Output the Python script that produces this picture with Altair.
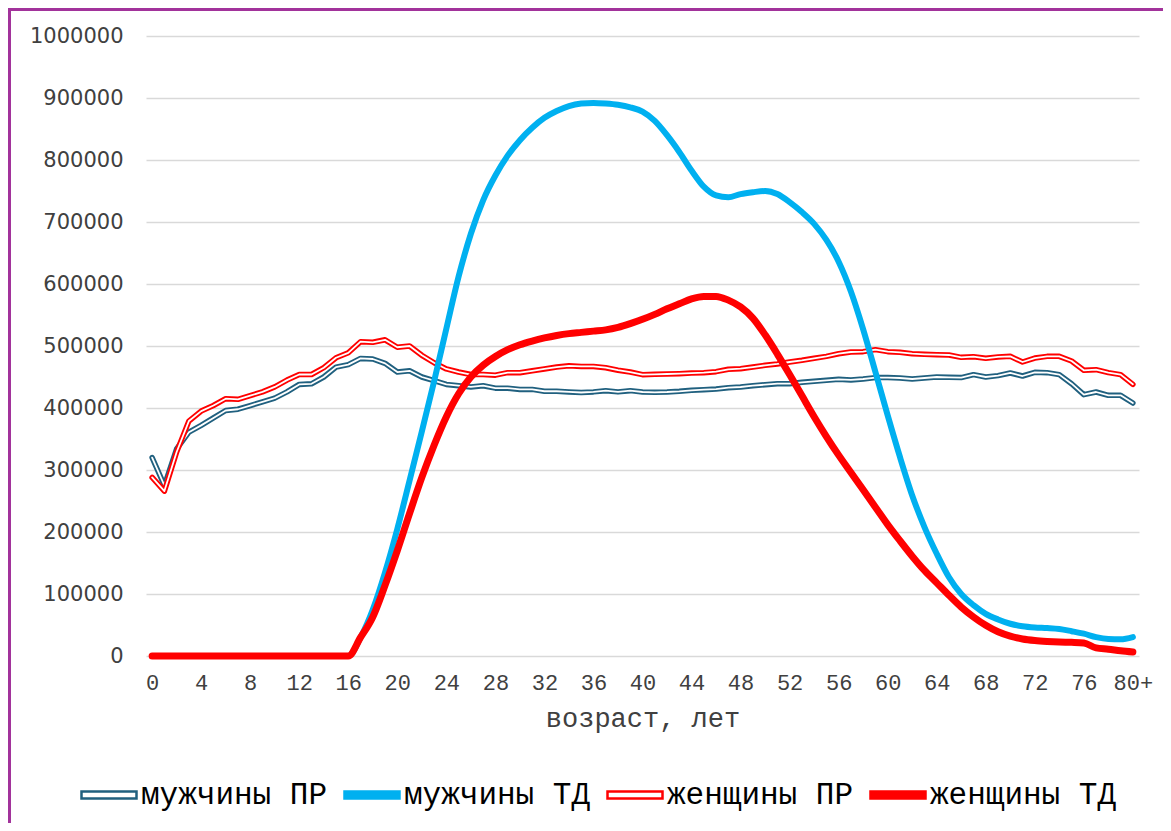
import altair as alt
import pandas as pd

ages = list(range(0, 81))

m_pr = [320000, 275000, 334000, 361000, 372000, 384000, 396000, 398000, 404000, 410000,
        416000, 426000, 438000, 439000, 450000, 466000, 470000, 480000, 479000, 472000,
        458000, 460000, 450000, 444000, 438000, 436000, 434000, 436000, 432000, 432000,
        430000, 430000, 427000, 427000, 426000, 425000, 426000, 428000, 426000, 428000,
        425800, 425300, 425800, 426900, 428500, 429600, 430600, 432800, 433900, 436000,
        437600, 439200, 439200, 441400, 443000, 444600, 446200, 445200, 446800, 449000,
        449000, 448400, 446800, 448400, 450000, 449500, 449000, 453800, 450000, 452200,
        456500, 451600, 457500, 457000, 453800, 439200, 421500, 425800, 420400, 420400,
        408000]

w_pr = [288000, 266000, 329000, 379000, 395000, 404000, 415000, 414000, 420000, 426000,
        434000, 445000, 454000, 454000, 465000, 481000, 489000, 507000, 506000, 510000,
        498000, 500000, 485000, 473000, 463000, 458000, 454000, 454000, 453000, 457000,
        457000, 460000, 463000, 466000, 468000, 467000, 467000, 465000, 461000, 458000,
        453800, 454300, 454800, 455400, 456400, 457000, 458600, 462400, 463400, 466100,
        468800, 471000, 474200, 476900, 480100, 483300, 487600, 490300, 490900, 494100,
        490900, 489800, 487600, 486600, 486000, 485500, 481700, 482800, 480100, 482300,
        483300, 474200, 480600, 483300, 483300, 475800, 460800, 461800, 457000, 453800,
        438200]

m_td = [0, 0, 0, 0, 0, 0, 0, 0, 0, 0,
        0, 0, 0, 0, 0, 0, 0, 30000, 75000, 135000,
        205000, 283000, 362000, 443000, 528000, 612000, 681000, 735000, 775000, 807000,
        832000, 852000, 868000, 879000, 887000, 891000, 892000, 891000, 889000, 885000,
        878000, 863000, 840000, 813000, 783000, 757000, 743000, 740000, 745000, 748000,
        750000, 745000, 732000, 716000, 697000, 671000, 636000, 588000, 527000, 458000,
        388000, 321000, 259000, 208000, 165000, 127000, 100000, 82000, 68000, 59000,
        52000, 48000, 46000, 45000, 43500, 40000, 36000, 30500, 27500, 27000,
        30500]

w_td = [0, 0, 0, 0, 0, 0, 0, 0, 0, 0,
        0, 0, 0, 0, 0, 0, 0, 30000, 63000, 114000,
        170000, 230000, 288000, 340000, 386000, 423000, 450000, 469000, 483000, 494000,
        502000, 508000, 513000, 517000, 520000, 522000, 524000, 526000, 530000, 536000,
        543000, 551000, 560000, 568000, 576000, 580000, 580000, 574000, 563000, 545000,
        518000, 487000, 454000, 420000, 386000, 354000, 324000, 296000, 268000, 240000,
        212000, 186000, 161000, 138000, 118000, 98000, 79000, 63000, 49500, 39000,
        32000, 27500, 25000, 23500, 22500, 22000, 21000, 13000, 11000, 8500,
        6500]

series_names = ["мужчины ПР", "мужчины ТД", "женщины ПР", "женщины ТД"]
stroke_colors = ["#20607F", "#00B0F0", "#FF0000", "#FF0000"]
fill_colors = ["#FFFFFF", "#00B0F0", "#FFFFFF", "#FF0000"]
x_ticks = list(range(0, 81, 4))
y_ticks = list(range(0, 1000001, 100000))

rows = []
for name, vals in zip(series_names, [m_pr, m_td, w_pr, w_td]):
    for a, v in zip(ages, vals):
        rows.append({"age": a, "value": v, "series": name})
df = pd.DataFrame(rows)

x_enc = alt.X(
    "age:Q",
    scale=alt.Scale(domain=[-0.5, 80.5], nice=False, zero=False),
    axis=alt.Axis(
        values=x_ticks,
        labelExpr="datum.value == 80 ? '80+' : datum.value",
        labelFont="Liberation Mono", labelFontSize=22, labelColor="#404040",
        labelPadding=16, domain=False, ticks=False, tickSize=0, grid=False,
        title="возраст, лет", titleFont="Liberation Mono", titleFontSize=27,
        titleFontWeight="normal", titleColor="#404040", titlePadding=12,
        labelFlush=False, labelOverlap=False,
    ),
)
y_enc = alt.Y(
    "value:Q",
    scale=alt.Scale(domain=[0, 1000000], nice=False),
    axis=alt.Axis(
        values=y_ticks, format="d",
        labelFont="DejaVu Sans", labelFontSize=21, labelColor="#404040",
        labelPadding=23, domain=False, ticks=False, tickSize=0,
        grid=True, gridColor="#D9D9D9", gridWidth=1.5, title=None,
    ),
)

sym_path = "M-1,-0.13L1,-0.13L1,0.13L-1,0.13Z"
legend = alt.Legend(
    orient="none", legendX=-66, legendY=730, direction="horizontal", columns=4,
    title=None, symbolType=sym_path, symbolSize=3025,
    symbolStrokeWidth=2.5, labelFont="Liberation Mono", labelFontSize=31,
    labelColor="#000000", labelOffset=3, columnPadding=11, labelLimit=400,
    padding=0, offset=0, symbolOpacity=1,
)

base = alt.Chart(df).encode(x=x_enc, y=y_enc)


def sel(name):
    return base.transform_filter(alt.datum.series == name)


line_kw = dict(strokeCap="round", strokeJoin="round")
m_pr_out = sel("мужчины ПР").mark_line(strokeWidth=5.5, color=stroke_colors[0], **line_kw)
m_pr_in = sel("мужчины ПР").mark_line(strokeWidth=1.8, color="white", **line_kw)
w_pr_out = sel("женщины ПР").mark_line(strokeWidth=5.5, color=stroke_colors[2], **line_kw)
w_pr_in = sel("женщины ПР").mark_line(strokeWidth=1.8, color="white", **line_kw)
m_td_line = sel("мужчины ТД").mark_line(strokeWidth=6, interpolate="monotone", color=stroke_colors[1], **line_kw)
w_td_line = sel("женщины ТД").mark_line(strokeWidth=7, interpolate="monotone", color=stroke_colors[3], **line_kw)

# legend-only layer (no rows drawn); the legend is built from the series scales
legend_layer = base.transform_filter("false").mark_point(
    shape=sym_path, filled=True, opacity=1, strokeWidth=2.5
).encode(
    fill=alt.Fill("series:N", scale=alt.Scale(domain=series_names, range=fill_colors),
                  sort=series_names, legend=legend),
    stroke=alt.Stroke("series:N", scale=alt.Scale(domain=series_names, range=stroke_colors),
                      sort=series_names, legend=legend),
)

frame_df = pd.DataFrame({"k": [0]})
border_top = alt.Chart(frame_df).mark_rule(color="#A2339B", strokeWidth=3).encode(
    x=alt.value(-138), x2=alt.value(1017), y=alt.value(-26.5))
border_left = alt.Chart(frame_df).mark_rule(color="#A2339B", strokeWidth=3).encode(
    x=alt.value(-136.5), y=alt.value(-28), y2=alt.value(787))

chart = alt.layer(
    m_pr_out, m_pr_in, w_pr_out, w_pr_in, m_td_line, w_td_line, legend_layer,
    border_top, border_left
).properties(
    width=993, height=620,
    autosize=alt.AutoSizeParams(type="none"),
    padding={"left": 138, "top": 28, "right": 24, "bottom": 167},
    background="white",
).configure_view(stroke=None)

chart.save("out.html", embed_options={"renderer": "svg", "actions": False})
